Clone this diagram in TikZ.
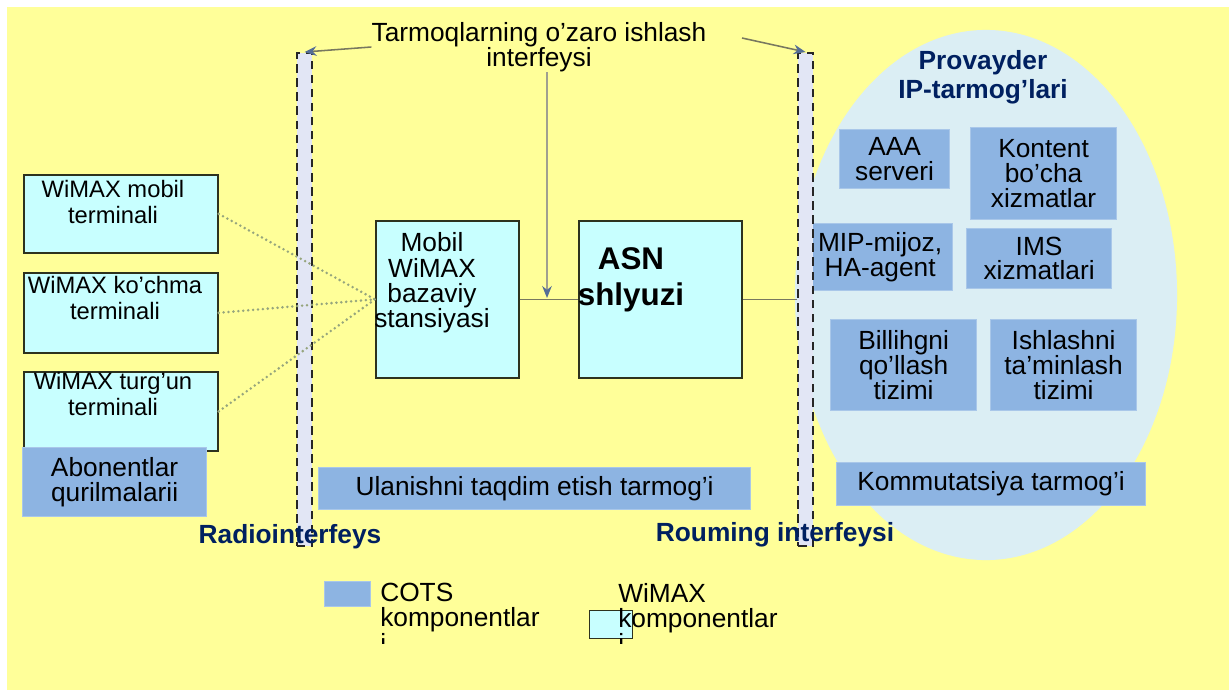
\documentclass[tikz,border=0pt]{standalone}
\usepackage{fontspec}
\setmainfont{Liberation Sans}
\usetikzlibrary{arrows.meta,positioning,shapes.geometric}
\definecolor{fonyellow}{RGB}{255,255,153}
\definecolor{wimaxcyan}{RGB}{200,255,255}
\definecolor{cotsblue}{RGB}{141,180,226}
\definecolor{provblue}{RGB}{219,238,244}
\definecolor{barlilac}{RGB}{226,230,245}
\definecolor{navytext}{RGB}{0,32,96}
\definecolor{boxline}{RGB}{45,50,30}
\definecolor{linkgray}{RGB}{120,120,95}
\definecolor{dotgreen}{RGB}{150,165,125}
\definecolor{tipblue}{RGB}{85,110,150}
\tikzset{
  terminal/.style={
    draw=boxline,
    fill=wimaxcyan,
    line width=1.2pt,
    inner sep=0pt,
    anchor=north west
  },
  cots/.style={
    draw=cotsblue!75!white,
    fill=cotsblue,
    line width=0.8pt,
    inner sep=0pt,
    anchor=north west,
    align=center,
    font=\fontsize{18.7}{17.5}\selectfont
  },
  matn/.style={
    align=center,
    inner sep=0pt,
    font=\fontsize{18.7}{18}\selectfont
  },
  kichik/.style={
    align=center,
    inner sep=0pt,
    font=\fontsize{16.9}{17.8}\selectfont
  },
  sarlavha/.style={
    align=center,
    inner sep=0pt,
    text=navytext,
    font=\bfseries\fontsize{18.7}{20.6}\selectfont
  },
  interfeys/.style={
    draw=black!85,
    fill=barlilac,
    line width=1.5pt,
    dash pattern=on 6pt off 4pt,
    inner sep=0pt,
    anchor=north west,
    minimum width=0.375cm,
    minimum height=12.325cm
  },
  radioliniya/.style={
    dotgreen,
    line width=2pt,
    line cap=round,
    dash pattern=on 0pt off 3.5pt
  },
  aloqa/.style={
    linkgray,
    line width=1.1pt
  },
  strelka/.style={
    -{Stealth[length=3mm,width=2.4mm,color=tipblue]},
    linkgray,
    line width=1.1pt
  }
}
\begin{document}
\begin{tikzpicture}[x=0.025cm,y=-0.025cm]
\useasboundingbox (0,0) rectangle (1229,690);
\fill[fonyellow] (7,7) rectangle (1229,690);
\node[ellipse,fill=provblue,inner sep=0pt,minimum width=9.55cm,minimum height=13.25cm] (prov) at (986,295) {};
\node[sarlavha] (provtxt) at (983,77) {Provayder\\IP-tarmog’lari};
\node[cots,minimum width=2.75cm,minimum height=1.475cm] (aaa) at (839,129) {AAA\\serveri};
\node[cots,minimum width=3.65cm,minimum height=2.3cm] (kontent) at (970,127) {Kontent\\bo’cha\\xizmatlar};
\node[cots,minimum width=3.625cm,minimum height=1.675cm] (mip) at (807,223) {MIP-mijoz,\\HA-agent};
\node[cots,minimum width=3.625cm,minimum height=1.5cm] (ims) at (966,228) {IMS\\xizmatlari};
\node[cots,minimum width=3.65cm,minimum height=2.275cm] (billing) at (830,319) {Billihgni\\qo’llash\\tizimi};
\node[cots,minimum width=3.65cm,minimum height=2.275cm] (ishlash) at (990,319) {Ishlashni\\ta’minlash\\tizimi};
\node[cots,minimum width=7.725cm,minimum height=1.075cm] (kommut) at (836,462) {Kommutatsiya tarmog’i};
\node[terminal,minimum width=4.85cm,minimum height=1.95cm] (mobil) at (23,174) {};
\node[kichik] (mobiltxt) at (113,202) {WiMAX mobil\\terminali};
\node[terminal,minimum width=4.85cm,minimum height=2cm] (kochma) at (23,272) {};
\node[kichik] (kochmatxt) at (115,298) {WiMAX ko’chma\\terminali};
\node[terminal,minimum width=4.85cm,minimum height=1.975cm] (turgun) at (23,371) {};
\node[kichik] (turguntxt) at (113,394) {WiMAX turg’un\\terminali};
\node[cots,minimum width=4.6cm,minimum height=1.725cm] (abonent) at (22,447) {Abonentlar\\qurilmalarii};
\node[terminal,minimum width=3.575cm,minimum height=3.925cm] (bs) at (375,220) {};
\node[matn] (bstxt) at (432,283) {Mobil\\WiMAX\\bazaviy\\stansiyasi};
\node[terminal,minimum width=4.075cm,minimum height=3.925cm] (asn) at (578,220) {};
\node[matn,font=\bfseries\fontsize{22.3}{25.6}\selectfont] (asntxt) at (631,280) {ASN\\shlyuzi};
\node[cots,minimum width=10.8cm,minimum height=1.05cm] (ulanish) at (318,467) {Ulanishni taqdim etish tarmog’i};
\node[interfeys] (radio) at (296,52) {};
\node[interfeys] (rouming) at (797,52) {};
\node[sarlavha] (radiotxt) at (290,537) {Radiointerfeys};
\node[sarlavha] (roumtxt) at (775,535) {Rouming interfeysi};
\node[matn] (iwf) at (539,47) {Tarmoqlarning o’zaro ishlash\\interfeysi};
\coordinate (iwfo) at (742,38);
\coordinate (bsasn) at (547,298);
\draw[aloqa] (bs.east) -- (asn.west);
\draw[aloqa] (asn.east) -- (asn.east -| rouming.west);
\foreach \t in {mobil,kochma,turgun}
  \draw[radioliniya] (\t.east) -- (bs.west);
\draw[strelka] (iwf.west) -- (radio.north);
\draw[strelka] (iwfo) -- (rouming.north);
\draw[strelka,linkgray!70] (iwf.south -| bsasn) -- (bsasn);
\node[cots,minimum width=1.15cm,minimum height=0.625cm] (cotsbelgi) at (324,581) {};
\node[terminal,line width=1pt,minimum width=1.075cm,minimum height=0.7cm] (wimaxbelgi) at (589,610) {};
\begin{scope}
\clip (370,570) rectangle (800,643);
\node[matn,align=left,anchor=north west] (cotstxt) at (380,583) {COTS\\komponentlar\\i};
\node[matn,align=left,anchor=north west] (wimaxtxt) at (618,583) {WiMAX\\komponentlar\\i};
\end{scope}
\end{tikzpicture}
\end{document}
